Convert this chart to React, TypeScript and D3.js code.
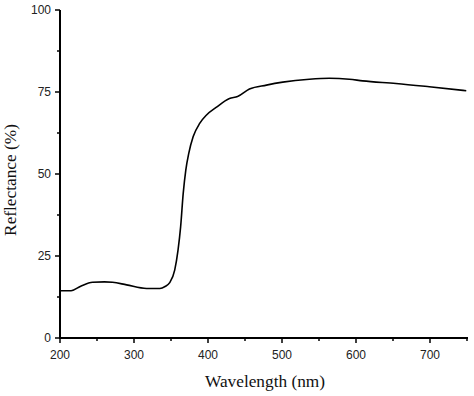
import React from "react";
import * as d3 from "d3";

const wavelengths = [200, 215, 228, 244, 260, 271, 290, 317, 335, 342, 348, 355, 359.5, 363, 366.5, 370, 374, 380, 389, 398, 411, 429, 440, 456, 479, 501, 537, 564, 591, 609, 654, 699, 749];
const reflectance = [14.4, 14.4, 15.8, 17.0, 17.1, 17.0, 16.2, 15.1, 15.1, 15.7, 16.8, 20.7, 26.8, 33.9, 44.1, 51.2, 56.3, 61.4, 65.5, 68.0, 70.3, 73.0, 73.6, 75.9, 77.1, 78.0, 78.9, 79.2, 78.9, 78.4, 77.6, 76.6, 75.4];
const xMajor = [200, 300, 400, 500, 600, 700];
const xMinor = [250, 350, 450, 550, 650, 750];
const yMajor = [0, 25, 50, 75, 100];
const yMinor = [12.5, 37.5, 62.5, 87.5];

export default function App() {
  const W = 474, H = 396;
  const L = 60, R = 467, T = 10, B = 338;
  const x = d3.scaleLinear().domain([200, 750]).range([L, R]);
  const y = d3.scaleLinear().domain([0, 100]).range([B, T]);
  const pts = wavelengths.map((w, i) => [w, reflectance[i]] as [number, number]);
  const line = d3.line<[number, number]>().x(d => x(d[0])).y(d => y(d[1])).curve(d3.curveMonotoneX);
  const tickFont = "Arial, 'Liberation Sans', sans-serif";
  const labelFont = "'Times New Roman', 'Liberation Serif', serif";
  return (
    <svg width={W} height={H} style={{ position: "absolute", left: 0, top: 0, background: "#fff" }}>
      <path d={line(pts) || ""} fill="none" stroke="#000" strokeWidth={1.6} />
      <line x1={L} x2={L} y1={T} y2={B + 1} stroke="#000" strokeWidth={2} />
      <line x1={L - 1} x2={R + 1} y1={B} y2={B} stroke="#000" strokeWidth={2} />
      {yMajor.map(v => (
        <g key={"ym" + v}>
          <line x1={L - 5} x2={L} y1={y(v)} y2={y(v)} stroke="#000" strokeWidth={1.5} />
          <text x={L - 9} y={y(v)} dy="0.35em" textAnchor="end" fontFamily={tickFont} fontSize={12} fill="#222">{v}</text>
        </g>
      ))}
      {yMinor.map(v => (
        <line key={"yn" + v} x1={L - 3} x2={L} y1={y(v)} y2={y(v)} stroke="#000" strokeWidth={1.5} />
      ))}
      {xMajor.map(v => (
        <g key={"xm" + v}>
          <line x1={x(v)} x2={x(v)} y1={B} y2={B + 5} stroke="#000" strokeWidth={1.5} />
          <text x={x(v)} y={B + 21} textAnchor="middle" fontFamily={tickFont} fontSize={12} fill="#222">{v}</text>
        </g>
      ))}
      {xMinor.map(v => (
        <line key={"xn" + v} x1={x(v)} x2={x(v)} y1={B} y2={B + 3} stroke="#000" strokeWidth={1.5} />
      ))}
      <text x={265} y={387} textAnchor="middle" fontFamily={labelFont} fontSize={17.3} fill="#111">Wavelength (nm)</text>
      <text transform={`translate(16,180) rotate(-90)`} textAnchor="middle" fontFamily={labelFont} fontSize={17.3} fill="#111">Reflectance (%)</text>
    </svg>
  );
}
